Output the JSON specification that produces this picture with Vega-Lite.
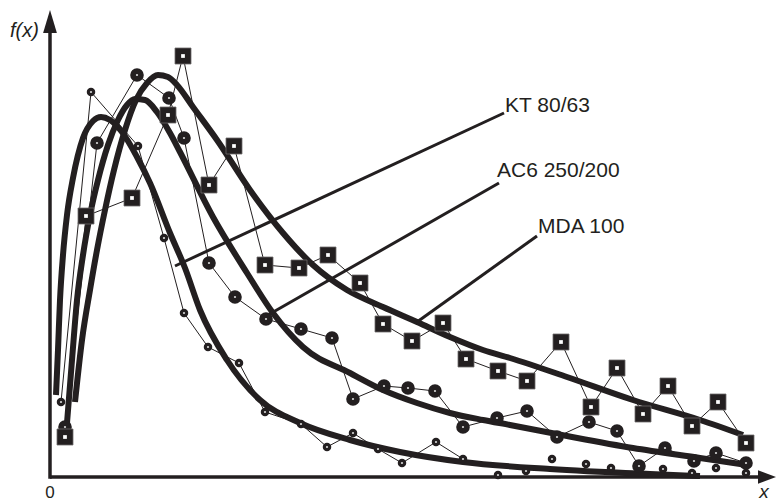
{
  "$schema": "https://vega.github.io/schema/vega-lite/v6.json",
  "width": 776,
  "height": 504,
  "autosize": "none",
  "padding": 0,
  "background": "white",
  "config": {"view": {"stroke": null}, "text": {"font": "Liberation Sans", "color": "#231f20"}},
  "datasets": {
    "one": [{}],
    "pts": [
      {"series": "KT 80/63", "i": 1, "x": 11, "y": 75, "linked": 1},
      {"series": "KT 80/63", "i": 2, "x": 41, "y": 385, "linked": 1},
      {"series": "KT 80/63", "i": 3, "x": 88, "y": 331, "linked": 1},
      {"series": "KT 80/63", "i": 4, "x": 114, "y": 239, "linked": 1},
      {"series": "KT 80/63", "i": 5, "x": 134, "y": 164, "linked": 1},
      {"series": "KT 80/63", "i": 6, "x": 158, "y": 130, "linked": 1},
      {"series": "KT 80/63", "i": 7, "x": 189, "y": 114, "linked": 1},
      {"series": "KT 80/63", "i": 8, "x": 215, "y": 65, "linked": 1},
      {"series": "KT 80/63", "i": 9, "x": 251, "y": 53, "linked": 1},
      {"series": "KT 80/63", "i": 10, "x": 277, "y": 30, "linked": 1},
      {"series": "KT 80/63", "i": 11, "x": 303, "y": 44, "linked": 1},
      {"series": "KT 80/63", "i": 12, "x": 328, "y": 28, "linked": 1},
      {"series": "KT 80/63", "i": 13, "x": 352, "y": 14, "linked": 1},
      {"series": "KT 80/63", "i": 14, "x": 386, "y": 35, "linked": 1},
      {"series": "KT 80/63", "i": 15, "x": 413, "y": 18, "linked": 1},
      {"series": "KT 80/63", "i": 16, "x": 448, "y": 2, "linked": 0},
      {"series": "KT 80/63", "i": 17, "x": 476, "y": 6, "linked": 0},
      {"series": "KT 80/63", "i": 18, "x": 502, "y": 18, "linked": 0},
      {"series": "KT 80/63", "i": 19, "x": 536, "y": 13, "linked": 0},
      {"series": "KT 80/63", "i": 20, "x": 561, "y": 9, "linked": 0},
      {"series": "KT 80/63", "i": 21, "x": 613, "y": 8, "linked": 0},
      {"series": "KT 80/63", "i": 22, "x": 642, "y": 4, "linked": 0},
      {"series": "KT 80/63", "i": 23, "x": 666, "y": 9, "linked": 0},
      {"series": "KT 80/63", "i": 24, "x": 696, "y": 4, "linked": 0},
      {"series": "AC6 250/200", "i": 1, "x": 15, "y": 50, "linked": 1},
      {"series": "AC6 250/200", "i": 2, "x": 47, "y": 334, "linked": 1},
      {"series": "AC6 250/200", "i": 3, "x": 87, "y": 402, "linked": 1},
      {"series": "AC6 250/200", "i": 4, "x": 119, "y": 379, "linked": 1},
      {"series": "AC6 250/200", "i": 5, "x": 134, "y": 339, "linked": 1},
      {"series": "AC6 250/200", "i": 6, "x": 159, "y": 214, "linked": 1},
      {"series": "AC6 250/200", "i": 7, "x": 185, "y": 180, "linked": 1},
      {"series": "AC6 250/200", "i": 8, "x": 216, "y": 158, "linked": 1},
      {"series": "AC6 250/200", "i": 9, "x": 251, "y": 148, "linked": 1},
      {"series": "AC6 250/200", "i": 10, "x": 282, "y": 139, "linked": 1},
      {"series": "AC6 250/200", "i": 11, "x": 303, "y": 78, "linked": 1},
      {"series": "AC6 250/200", "i": 12, "x": 334, "y": 91, "linked": 1},
      {"series": "AC6 250/200", "i": 13, "x": 358, "y": 89, "linked": 1},
      {"series": "AC6 250/200", "i": 14, "x": 385, "y": 86, "linked": 1},
      {"series": "AC6 250/200", "i": 15, "x": 413, "y": 50, "linked": 1},
      {"series": "AC6 250/200", "i": 16, "x": 447, "y": 59, "linked": 1},
      {"series": "AC6 250/200", "i": 17, "x": 477, "y": 66, "linked": 1},
      {"series": "AC6 250/200", "i": 18, "x": 507, "y": 40, "linked": 1},
      {"series": "AC6 250/200", "i": 19, "x": 539, "y": 55, "linked": 1},
      {"series": "AC6 250/200", "i": 20, "x": 567, "y": 46, "linked": 1},
      {"series": "AC6 250/200", "i": 21, "x": 589, "y": 11, "linked": 1},
      {"series": "AC6 250/200", "i": 22, "x": 615, "y": 29, "linked": 1},
      {"series": "AC6 250/200", "i": 23, "x": 644, "y": 16, "linked": 1},
      {"series": "AC6 250/200", "i": 24, "x": 666, "y": 24, "linked": 1},
      {"series": "AC6 250/200", "i": 25, "x": 696, "y": 14, "linked": 1},
      {"series": "MDA 100", "i": 1, "x": 15, "y": 40, "linked": 1},
      {"series": "MDA 100", "i": 2, "x": 36, "y": 261, "linked": 1},
      {"series": "MDA 100", "i": 3, "x": 82, "y": 279, "linked": 1},
      {"series": "MDA 100", "i": 4, "x": 118, "y": 362, "linked": 1},
      {"series": "MDA 100", "i": 5, "x": 133, "y": 421, "linked": 1},
      {"series": "MDA 100", "i": 6, "x": 159, "y": 292, "linked": 1},
      {"series": "MDA 100", "i": 7, "x": 184, "y": 331, "linked": 1},
      {"series": "MDA 100", "i": 8, "x": 215, "y": 212, "linked": 1},
      {"series": "MDA 100", "i": 9, "x": 249, "y": 209, "linked": 1},
      {"series": "MDA 100", "i": 10, "x": 278, "y": 222, "linked": 1},
      {"series": "MDA 100", "i": 11, "x": 310, "y": 194, "linked": 1},
      {"series": "MDA 100", "i": 12, "x": 333, "y": 153, "linked": 1},
      {"series": "MDA 100", "i": 13, "x": 362, "y": 136, "linked": 1},
      {"series": "MDA 100", "i": 14, "x": 393, "y": 154, "linked": 1},
      {"series": "MDA 100", "i": 15, "x": 416, "y": 118, "linked": 1},
      {"series": "MDA 100", "i": 16, "x": 448, "y": 106, "linked": 1},
      {"series": "MDA 100", "i": 17, "x": 477, "y": 96, "linked": 1},
      {"series": "MDA 100", "i": 18, "x": 511, "y": 135, "linked": 1},
      {"series": "MDA 100", "i": 19, "x": 541, "y": 70, "linked": 1},
      {"series": "MDA 100", "i": 20, "x": 567, "y": 109, "linked": 1},
      {"series": "MDA 100", "i": 21, "x": 593, "y": 63, "linked": 1},
      {"series": "MDA 100", "i": 22, "x": 618, "y": 91, "linked": 1},
      {"series": "MDA 100", "i": 23, "x": 642, "y": 51, "linked": 1},
      {"series": "MDA 100", "i": 24, "x": 668, "y": 75, "linked": 1},
      {"series": "MDA 100", "i": 25, "x": 696, "y": 34, "linked": 1}
    ],
    "fit": [
      {"series": "KT 80/63", "x": 6, "y": 82},
      {"series": "KT 80/63", "x": 8, "y": 127},
      {"series": "KT 80/63", "x": 10, "y": 177},
      {"series": "KT 80/63", "x": 13, "y": 222},
      {"series": "KT 80/63", "x": 17, "y": 262},
      {"series": "KT 80/63", "x": 23, "y": 299},
      {"series": "KT 80/63", "x": 33, "y": 339},
      {"series": "KT 80/63", "x": 43, "y": 356},
      {"series": "KT 80/63", "x": 51, "y": 360},
      {"series": "KT 80/63", "x": 60, "y": 357},
      {"series": "KT 80/63", "x": 72, "y": 345},
      {"series": "KT 80/63", "x": 87, "y": 320},
      {"series": "KT 80/63", "x": 100, "y": 294},
      {"series": "KT 80/63", "x": 120, "y": 244},
      {"series": "KT 80/63", "x": 135, "y": 209},
      {"series": "KT 80/63", "x": 150, "y": 167},
      {"series": "KT 80/63", "x": 177, "y": 117},
      {"series": "KT 80/63", "x": 210, "y": 77},
      {"series": "KT 80/63", "x": 250, "y": 54},
      {"series": "KT 80/63", "x": 300, "y": 37},
      {"series": "KT 80/63", "x": 350, "y": 25},
      {"series": "KT 80/63", "x": 413, "y": 15},
      {"series": "KT 80/63", "x": 500, "y": 8},
      {"series": "KT 80/63", "x": 600, "y": 3},
      {"series": "KT 80/63", "x": 650, "y": 1},
      {"series": "AC6 250/200", "x": 17, "y": 54},
      {"series": "AC6 250/200", "x": 22, "y": 117},
      {"series": "AC6 250/200", "x": 27, "y": 177},
      {"series": "AC6 250/200", "x": 33, "y": 222},
      {"series": "AC6 250/200", "x": 40, "y": 262},
      {"series": "AC6 250/200", "x": 48, "y": 297},
      {"series": "AC6 250/200", "x": 58, "y": 332},
      {"series": "AC6 250/200", "x": 68, "y": 357},
      {"series": "AC6 250/200", "x": 77, "y": 372},
      {"series": "AC6 250/200", "x": 85, "y": 378},
      {"series": "AC6 250/200", "x": 95, "y": 377},
      {"series": "AC6 250/200", "x": 107, "y": 365},
      {"series": "AC6 250/200", "x": 120, "y": 344},
      {"series": "AC6 250/200", "x": 130, "y": 325},
      {"series": "AC6 250/200", "x": 163, "y": 260},
      {"series": "AC6 250/200", "x": 197, "y": 204},
      {"series": "AC6 250/200", "x": 223, "y": 164},
      {"series": "AC6 250/200", "x": 253, "y": 130},
      {"series": "AC6 250/200", "x": 300, "y": 104},
      {"series": "AC6 250/200", "x": 333, "y": 87},
      {"series": "AC6 250/200", "x": 367, "y": 74},
      {"series": "AC6 250/200", "x": 400, "y": 64},
      {"series": "AC6 250/200", "x": 433, "y": 57},
      {"series": "AC6 250/200", "x": 460, "y": 52},
      {"series": "AC6 250/200", "x": 517, "y": 41},
      {"series": "AC6 250/200", "x": 583, "y": 29},
      {"series": "AC6 250/200", "x": 650, "y": 19},
      {"series": "AC6 250/200", "x": 697, "y": 12},
      {"series": "MDA 100", "x": 25, "y": 75},
      {"series": "MDA 100", "x": 32, "y": 137},
      {"series": "MDA 100", "x": 40, "y": 187},
      {"series": "MDA 100", "x": 47, "y": 227},
      {"series": "MDA 100", "x": 55, "y": 267},
      {"series": "MDA 100", "x": 64, "y": 307},
      {"series": "MDA 100", "x": 75, "y": 347},
      {"series": "MDA 100", "x": 86, "y": 377},
      {"series": "MDA 100", "x": 97, "y": 394},
      {"series": "MDA 100", "x": 108, "y": 402},
      {"series": "MDA 100", "x": 118, "y": 400},
      {"series": "MDA 100", "x": 127, "y": 392},
      {"series": "MDA 100", "x": 143, "y": 370},
      {"series": "MDA 100", "x": 167, "y": 337},
      {"series": "MDA 100", "x": 200, "y": 287},
      {"series": "MDA 100", "x": 233, "y": 244},
      {"series": "MDA 100", "x": 263, "y": 212},
      {"series": "MDA 100", "x": 297, "y": 187},
      {"series": "MDA 100", "x": 333, "y": 170},
      {"series": "MDA 100", "x": 367, "y": 155},
      {"series": "MDA 100", "x": 400, "y": 140},
      {"series": "MDA 100", "x": 433, "y": 127},
      {"series": "MDA 100", "x": 460, "y": 119},
      {"series": "MDA 100", "x": 517, "y": 100},
      {"series": "MDA 100", "x": 583, "y": 77},
      {"series": "MDA 100", "x": 650, "y": 57},
      {"series": "MDA 100", "x": 693, "y": 42}
    ],
    "labels": [
      {"series": "KT 80/63", "x": 125, "y": 211, "lx": 454, "ly": 364, "tx": 455, "ty": 365},
      {"series": "AC6 250/200", "x": 218, "y": 162, "lx": 449, "ly": 294, "tx": 447, "ty": 300},
      {"series": "MDA 100", "x": 367, "y": 155, "lx": 487, "ly": 241, "tx": 488, "ty": 244}
    ]
  },
  "encoding": {
    "x": {"type": "quantitative", "scale": {"domain": [-50, 726], "nice": false, "zero": false}, "axis": null},
    "y": {"type": "quantitative", "scale": {"domain": [-27, 477], "nice": false, "zero": false}, "axis": null}
  },
  "layer": [
    {
      "data": {"name": "one"},
      "mark": {"type": "rule", "color": "#231f20", "strokeWidth": 3.5},
      "encoding": {
        "x": {"datum": 0, "type": "quantitative"},
        "y": {"datum": -1.7, "type": "quantitative"},
        "y2": {"datum": 446}
      }
    },
    {
      "data": {"name": "one"},
      "mark": {"type": "rule", "color": "#231f20", "strokeWidth": 3.5},
      "encoding": {
        "x": {"datum": 0, "type": "quantitative"},
        "x2": {"datum": 710},
        "y": {"datum": 0, "type": "quantitative"}
      }
    },
    {
      "data": {"name": "one"},
      "mark": {"type": "point", "shape": "M0,-1L0.6,1L-0.6,1Z", "size": 529, "filled": true, "opacity": 1, "color": "#231f20"},
      "encoding": {
        "x": {"datum": 0, "type": "quantitative"},
        "y": {"datum": 455.5, "type": "quantitative"}
      }
    },
    {
      "data": {"name": "one"},
      "mark": {"type": "point", "shape": "M1,0L-1,-0.75L-1,0.75Z", "size": 324, "filled": true, "opacity": 1, "color": "#231f20"},
      "encoding": {
        "x": {"datum": 717, "type": "quantitative"},
        "y": {"datum": 0, "type": "quantitative"}
      }
    },
    {
      "data": {"name": "pts"},
      "transform": [{"filter": "datum.linked == 1"}],
      "mark": {"type": "line", "color": "#231f20", "strokeWidth": 1},
      "encoding": {
        "x": {"field": "x", "type": "quantitative"},
        "y": {"field": "y", "type": "quantitative"},
        "detail": {"field": "series"},
        "order": {"field": "i"}
      }
    },
    {
      "data": {"name": "fit"},
      "mark": {"type": "line", "color": "#231f20", "strokeWidth": 6, "interpolate": "monotone", "strokeCap": "butt"},
      "encoding": {
        "x": {"field": "x", "type": "quantitative"},
        "y": {"field": "y", "type": "quantitative"},
        "detail": {"field": "series"}
      }
    },
    {
      "data": {"name": "labels"},
      "mark": {"type": "rule", "color": "#231f20", "strokeWidth": 3},
      "encoding": {
        "x": {"field": "x", "type": "quantitative"},
        "y": {"field": "y", "type": "quantitative"},
        "x2": {"field": "lx"},
        "y2": {"field": "ly"}
      }
    },
    {
      "data": {"name": "labels"},
      "mark": {"type": "text", "fontSize": 21, "align": "left", "baseline": "alphabetic"},
      "encoding": {
        "x": {"field": "tx", "type": "quantitative"},
        "y": {"field": "ty", "type": "quantitative"},
        "text": {"field": "series"}
      }
    },
    {
      "data": {"name": "pts"},
      "transform": [{"filter": "datum.series == 'KT 80/63'"}],
      "mark": {"type": "point", "shape": "circle", "filled": true, "opacity": 1, "color": "#231f20", "size": 72},
      "encoding": {
        "x": {"field": "x", "type": "quantitative"},
        "y": {"field": "y", "type": "quantitative"}
      }
    },
    {
      "data": {"name": "pts"},
      "transform": [{"filter": "datum.series == 'AC6 250/200'"}],
      "mark": {"type": "point", "shape": "circle", "filled": true, "opacity": 1, "color": "#231f20", "size": 185},
      "encoding": {
        "x": {"field": "x", "type": "quantitative"},
        "y": {"field": "y", "type": "quantitative"}
      }
    },
    {
      "data": {"name": "pts"},
      "transform": [{"filter": "datum.series == 'MDA 100'"}],
      "mark": {"type": "point", "shape": "square", "filled": true, "opacity": 1, "color": "#231f20", "size": 256, "stroke": "#6d6a6b", "strokeWidth": 0.8},
      "encoding": {
        "x": {"field": "x", "type": "quantitative"},
        "y": {"field": "y", "type": "quantitative"}
      }
    },
    {
      "data": {"name": "pts"},
      "transform": [{"filter": "datum.series == 'MDA 100'"}],
      "mark": {"type": "point", "shape": "square", "filled": true, "opacity": 1, "color": "white", "size": 14},
      "encoding": {
        "x": {"field": "x", "type": "quantitative"},
        "y": {"field": "y", "type": "quantitative"}
      }
    },
    {
      "data": {"name": "pts"},
      "transform": [{"filter": "datum.series != 'MDA 100'"}],
      "mark": {"type": "point", "shape": "circle", "filled": true, "opacity": 1, "color": "#d8d8d8", "size": 5},
      "encoding": {
        "x": {"field": "x", "type": "quantitative"},
        "y": {"field": "y", "type": "quantitative"}
      }
    },
    {
      "data": {"name": "one"},
      "mark": {"type": "text", "fontSize": 20, "fontStyle": "italic", "align": "left", "baseline": "alphabetic"},
      "encoding": {
        "x": {"datum": -40, "type": "quantitative"},
        "y": {"datum": 440, "type": "quantitative"},
        "text": {"value": "f(x)"}
      }
    },
    {
      "data": {"name": "one"},
      "mark": {"type": "text", "fontSize": 17, "align": "center", "baseline": "alphabetic"},
      "encoding": {
        "x": {"datum": 0, "type": "quantitative"},
        "y": {"datum": -21, "type": "quantitative"},
        "text": {"value": "0"}
      }
    },
    {
      "data": {"name": "one"},
      "mark": {"type": "text", "fontSize": 19, "fontStyle": "italic", "align": "center", "baseline": "alphabetic"},
      "encoding": {
        "x": {"datum": 714, "type": "quantitative"},
        "y": {"datum": -21, "type": "quantitative"},
        "text": {"value": "x"}
      }
    }
  ]
}
